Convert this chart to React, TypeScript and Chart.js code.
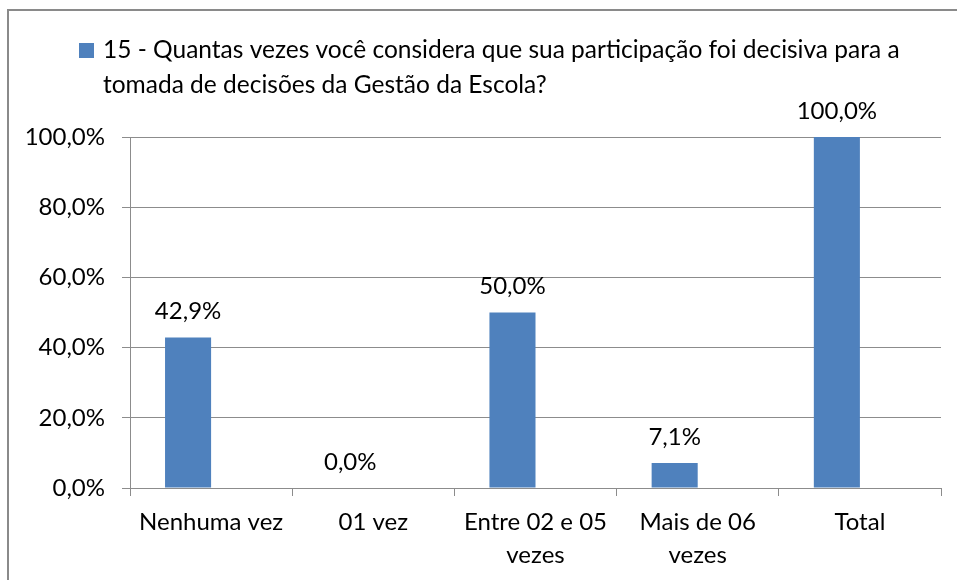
import React, { useEffect, useRef } from "react";
import { Chart, registerables } from "chart.js";

Chart.register(...registerables);

// ---- data ----
const categories: (string | string[])[] = [
  "Nenhuma vez",
  "01 vez",
  ["Entre 02 e 05", "vezes"],
  ["Mais de 06", "vezes"],
  "Total",
];
const seriesName =
  "15 - Quantas vezes você considera que sua participação foi decisiva para a tomada de decisões da Gestão da Escola?";
const legendLines = [
  "15 - Quantas vezes você considera que sua participação foi decisiva para a",
  "tomada de decisões da Gestão da Escola?",
];
const values = [42.9, 0, 50, 7.1, 100];
const yMin = 0;
const yMax = 100;
const yStep = 20;

const FONT = "Lato, 'Open Sans', sans-serif";
const FONT_SIZE = 24;
const LEGEND_FONT_SIZE = 24.5;
const BAR_COLOR = "#4F81BD";
const GRID_COLOR = "#8c8c8c";

const fmt = (v: number) => v.toFixed(1).replace(".", ",") + "%";

const framePlugin = {
  id: "frame",
  beforeDraw(chart: any) {
    const ctx = chart.ctx;
    ctx.save();
    ctx.fillStyle = "#ffffff";
    ctx.fillRect(0, 0, chart.width, chart.height);
    ctx.strokeStyle = "#8a8a8a";
    ctx.lineWidth = 2;
    ctx.beginPath();
    ctx.moveTo(7, 10);
    ctx.lineTo(chart.width, 10);
    ctx.moveTo(8, 9);
    ctx.lineTo(8, chart.height);
    ctx.stroke();
    ctx.restore();
  },
};

const legendPlugin = {
  id: "customLegend",
  afterDraw(chart: any) {
    const ctx = chart.ctx;
    ctx.save();
    ctx.fillStyle = BAR_COLOR;
    ctx.fillRect(79, 43, 15, 15);
    ctx.fillStyle = "#000000";
    ctx.font = `${LEGEND_FONT_SIZE}px ${FONT}`;
    ctx.textAlign = "left";
    ctx.textBaseline = "alphabetic";
    ctx.fillText(legendLines[0], 103, 58);
    ctx.fillText(legendLines[1], 103, 93);
    ctx.restore();
  },
};

const valueLabelPlugin = {
  id: "valueLabels",
  afterDatasetsDraw(chart: any) {
    const ctx = chart.ctx;
    const meta = chart.getDatasetMeta(0);
    ctx.save();
    ctx.fillStyle = "#000000";
    ctx.font = `${FONT_SIZE}px ${FONT}`;
    ctx.textAlign = "center";
    ctx.textBaseline = "middle";
    meta.data.forEach((bar: any, i: number) => {
      ctx.fillText(fmt(values[i]), bar.x, bar.y - 26);
    });
    ctx.restore();
  },
};

export default function App() {
  const ref = useRef<HTMLCanvasElement | null>(null);

  useEffect(() => {
    if (!ref.current) return;
    const chart = new Chart(ref.current, {
      type: "bar",
      data: {
        labels: categories as any,
        datasets: [
          {
            label: seriesName,
            data: values,
            backgroundColor: BAR_COLOR,
            borderWidth: 0,
            categoryPercentage: 0.568,
            barPercentage: 1,
          },
          {
            label: "",
            data: values.map(() => null),
            backgroundColor: "rgba(0,0,0,0)",
            borderWidth: 0,
            categoryPercentage: 0.568,
            barPercentage: 1,
          },
        ],
      },
      options: {
        responsive: false,
        animation: false,
        devicePixelRatio: 1,
        layout: { padding: { top: 137, right: 16, left: 0, bottom: 0 } },
        plugins: {
          legend: { display: false },
          tooltip: { enabled: false },
          title: { display: false },
        },
        scales: {
          x: {
            offset: true,
            grid: {
              offset: true,
              drawOnChartArea: false,
              drawTicks: true,
              tickLength: 8,
              color: GRID_COLOR,
            },
            border: { display: true, color: GRID_COLOR, width: 1 },
            ticks: {
              color: "#000000",
              padding: 9,
              maxRotation: 0,
              autoSkip: false,
              font: { family: FONT, size: FONT_SIZE, lineHeight: 1.4 },
            },
            afterFit(scale: any) {
              scale.height = 92;
            },
          },
          y: {
            min: yMin,
            max: yMax,
            ticks: {
              stepSize: yStep,
              color: "#000000",
              padding: 17,
              font: { family: FONT, size: FONT_SIZE },
              callback: (v: any) => fmt(Number(v)),
            },
            grid: {
              color: GRID_COLOR,
              tickLength: 8,
              drawTicks: true,
            },
            border: { display: true, color: GRID_COLOR, width: 1 },
            afterFit(scale: any) {
              scale.width = 130;
            },
          },
        },
      },
      plugins: [framePlugin, legendPlugin, valueLabelPlugin],
    });
    return () => chart.destroy();
  }, []);

  return (
    <div style={{ position: "absolute", left: 0, top: 0, width: 957, height: 580 }}>
      <canvas ref={ref} width={957} height={580} style={{ display: "block", width: 957, height: 580 }} />
    </div>
  );
}
